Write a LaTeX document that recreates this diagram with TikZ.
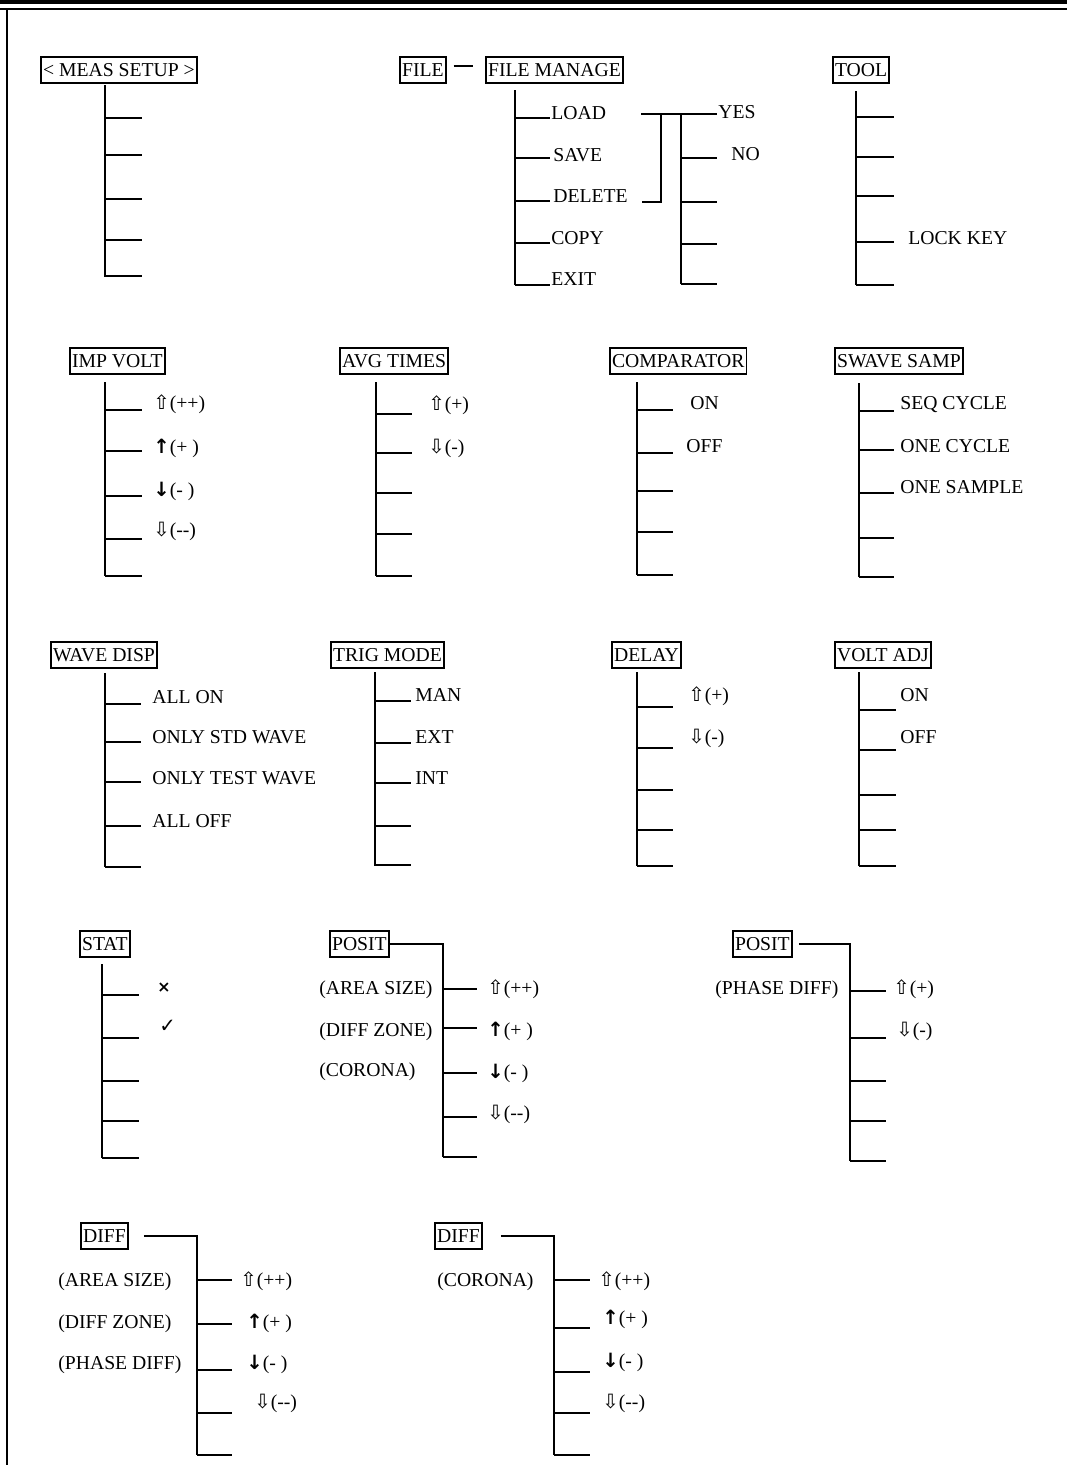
\documentclass[tikz,border=0pt]{standalone}
\usepackage{fontspec}
\setmainfont{Liberation Serif}
\newfontfamily\symfont{DejaVu Sans}
\newcommand{\upw}{{\symfont ⇧}}
\newcommand{\dnw}{{\symfont ⇩}}
\newcommand{\ups}{{\symfont\bfseries ↑}}
\newcommand{\dns}{{\symfont\bfseries ↓}}
\newcommand{\mm}{-\kern0pt-}

\begin{document}
\begin{tikzpicture}[x=0.02cm, y=-0.02cm, font=\fontsize{11.2}{13}\selectfont,
    menubox/.style={draw, line width=1.1pt, inner xsep=1.2pt, inner ysep=0pt, minimum height=0.52cm, text height=7.4pt, text depth=0pt, anchor=west},
    item/.style={inner sep=0pt, text height=7.4pt, text depth=0pt, anchor=west},
    branch/.style={line width=1.3pt}]
  \useasboundingbox (0,0) rectangle (1067,1465);
  % page frame
  \draw[line width=1.8pt] (0,2) -- (1067,2);
  \draw[line width=1.2pt] (0,9) -- (1067,9);
  \draw[line width=1.2pt] (7,9) -- (7,1465);

  % row 1
  \node[menubox] (meas) at (40,70) {< MEAS SETUP >};
  \draw[branch] (105,85) -- (105,277);
  \foreach \y in {118,155,199,240,276} \draw[branch] (105,\y) -- (142,\y);

  \node[menubox] (file) at (399,70) {FILE};
  \node[menubox] (fmanage) at (485,70) {FILE MANAGE};
  \draw[branch] ([shift={(7,-4)}]file.east) -- ([shift={(-12,-4)}]fmanage.west);
  \draw[branch] (515,90) -- (515,285);
  \foreach \y in {118,158,201,243,285} \draw[branch] (515,\y) -- (550,\y);
  \node[item] (load) at (551,113) {LOAD};
  \node[item] (save) at (553,155) {SAVE};
  \node[item] (delete) at (553,196) {DELETE};
  \node[item] (copy) at (551,238) {COPY};
  \node[item] (exit) at (551,279) {EXIT};
  \draw[branch] (641,114) -- (717,114);
  \draw[branch] (642,202) -- (661,202) -- (661,114);
  \draw[branch] (681,114) -- (681,284);
  \foreach \y in {158,202,244,284} \draw[branch] (681,\y) -- (717,\y);
  \node[item] (yes) at (718,112) {YES};
  \node[item] (no) at (731,154) {NO};

  \node[menubox] (tool) at (832,70) {TOOL};
  \draw[branch] (856,91) -- (856,285);
  \foreach \y in {117,157,196,242,285} \draw[branch] (856,\y) -- (894,\y);
  \node[item] (lockkey) at (908,238) {LOCK KEY};

  % row 2
  \node[menubox] (impvolt) at (69,361) {IMP VOLT};
  \draw[branch] (105,382) -- (105,576);
  \foreach \y in {410,451,496,539,576} \draw[branch] (105,\y) -- (142,\y);
  \node[item] (iv1) at (153,403) {\upw(++)};
  \node[item] (iv2) at (153,447) {\ups(+ )};
  \node[item] (iv3) at (153,490) {\dns(- )};
  \node[item] (iv4) at (153,530) {\dnw(\mm)};

  \node[menubox] (avgtimes) at (339,361) {AVG TIMES};
  \draw[branch] (376,382) -- (376,576);
  \foreach \y in {414,453,493,534,576} \draw[branch] (376,\y) -- (412,\y);
  \node[item] (at1) at (428,404) {\upw(+)};
  \node[item] (at2) at (428,447) {\dnw(-)};

  \node[menubox] (comparator) at (609,361) {COMPARATOR};
  \draw[branch] (637,382) -- (637,575);
  \foreach \y in {410,453,491,532,575} \draw[branch] (637,\y) -- (673,\y);
  \node[item] (cpon) at (690,403) {ON};
  \node[item] (cpoff) at (686,446) {OFF};

  \node[menubox] (swave) at (834,361) {SWAVE SAMP};
  \draw[branch] (859,383) -- (859,577);
  \foreach \y in {411,450,493,538,577} \draw[branch] (859,\y) -- (894,\y);
  \node[item] (seqcycle) at (900,403) {SEQ CYCLE};
  \node[item] (onecycle) at (900,446) {ONE CYCLE};
  \node[item] (onesample) at (900,487) {ONE SAMPLE};

  % row 3
  \node[menubox] (wavedisp) at (50,655) {WAVE DISP};
  \draw[branch] (105,673) -- (105,867);
  \foreach \y in {704,742,782,826,867} \draw[branch] (105,\y) -- (141,\y);
  \node[item] (allon) at (152,697) {ALL ON};
  \node[item] (onlystd) at (152,737) {ONLY STD WAVE};
  \node[item] (onlytest) at (152,778) {ONLY TEST WAVE};
  \node[item] (alloff) at (152,821) {ALL OFF};

  \node[menubox] (trigmode) at (330,655) {TRIG MODE};
  \draw[branch] (375,672) -- (375,866);
  \foreach \y in {701,743,783,826,865} \draw[branch] (375,\y) -- (411,\y);
  \node[item] (man) at (415,695) {MAN};
  \node[item] (ext) at (415,737) {EXT};
  \node[item] (int) at (415,778) {INT};

  \node[menubox] (delay) at (611,655) {DELAY};
  \draw[branch] (637,672) -- (637,866);
  \foreach \y in {707,748,790,830,866} \draw[branch] (637,\y) -- (673,\y);
  \node[item] (dl1) at (688,695) {\upw(+)};
  \node[item] (dl2) at (688,737) {\dnw(-)};

  \node[menubox] (voltadj) at (834,655) {VOLT ADJ};
  \draw[branch] (859,672) -- (859,866);
  \foreach \y in {710,750,795,830,866} \draw[branch] (859,\y) -- (896,\y);
  \node[item] (vaon) at (900,695) {ON};
  \node[item] (vaoff) at (900,737) {OFF};

  % row 4
  \node[menubox] (stat) at (79,944) {STAT};
  \draw[branch] (102,964) -- (102,1158);
  \foreach \y in {995,1038,1081,1121,1158} \draw[branch] (102,\y) -- (139,\y);
  \node[item] (cross) at (157,986) {{\symfont\bfseries\small ×}};
  \node[item] (tick) at (159,1026) {{\symfont ✓}};

  \node[menubox] (posita) at (329,944) {POSIT};
  \draw[branch] (posita.east) -| (443,1157);
  \foreach \y in {989,1028,1073,1117,1157} \draw[branch] (443,\y) -- (477,\y);
  \node[item] (areaa) at (319,988) {(AREA SIZE)};
  \node[item] (zonea) at (319,1030) {(DIFF ZONE)};
  \node[item] (coronaa) at (319,1070) {(CORONA)};
  \node[item] (pa1) at (487,988) {\upw(++)};
  \node[item] (pa2) at (487,1030) {\ups(+ )};
  \node[item] (pa3) at (487,1072) {\dns(- )};
  \node[item] (pa4) at (487,1113) {\dnw(\mm)};

  \node[menubox] (positb) at (732,944) {POSIT};
  \draw[branch] ([xshift=0.12cm]positb.east) -| (850,1161);
  \foreach \y in {991,1038,1081,1121,1161} \draw[branch] (850,\y) -- (886,\y);
  \node[item] (phaseb) at (715,988) {(PHASE DIFF)};
  \node[item] (pb1) at (893,988) {\upw(+)};
  \node[item] (pb2) at (896,1030) {\dnw(-)};

  % row 5
  \node[menubox] (diffa) at (80,1236) {DIFF};
  \draw[branch] ([xshift=0.3cm]diffa.east) -| (197,1455);
  \foreach \y in {1280,1324,1370,1413,1455} \draw[branch] (197,\y) -- (232,\y);
  \node[item] (areab) at (58,1280) {(AREA SIZE)};
  \node[item] (zoneb) at (58,1322) {(DIFF ZONE)};
  \node[item] (phasec) at (58,1363) {(PHASE DIFF)};
  \node[item] (da1) at (240,1280) {\upw(++)};
  \node[item] (da2) at (246,1322) {\ups(+ )};
  \node[item] (da3) at (246,1363) {\dns(- )};
  \node[item] (da4) at (254,1402) {\dnw(\mm)};

  \node[menubox] (diffb) at (434,1236) {DIFF};
  \draw[branch] ([xshift=0.36cm]diffb.east) -| (554,1455);
  \foreach \y in {1280,1328,1372,1413,1455} \draw[branch] (554,\y) -- (590,\y);
  \node[item] (coronab) at (437,1280) {(CORONA)};
  \node[item] (db1) at (598,1280) {\upw(++)};
  \node[item] (db2) at (602,1318) {\ups(+ )};
  \node[item] (db3) at (602,1361) {\dns(- )};
  \node[item] (db4) at (602,1402) {\dnw(\mm)};
\end{tikzpicture}
\end{document}
